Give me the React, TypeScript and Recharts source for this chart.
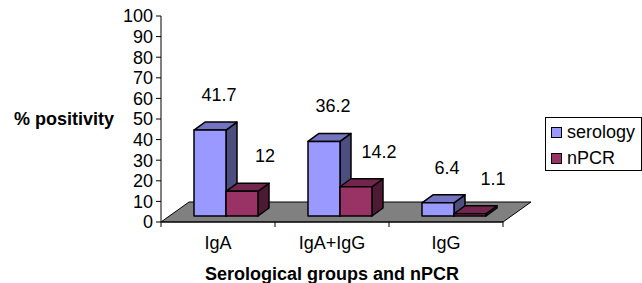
import { BarChart, Bar, XAxis, YAxis, Legend, LabelList, ReferenceArea } from "recharts";

const groups = ["IgA", "IgA+IgG", "IgG"];
const serology = [41.7, 36.2, 6.4];
const npcr = [12, 14.2, 1.1];
const yTicks = [0, 10, 20, 30, 40, 50, 60, 70, 80, 90, 100];
const seriesOrder = ["serology", "nPCR"];

const data = groups.map((group, i) => ({ group, serology: serology[i], nPCR: npcr[i] }));

const FONT = "'Liberation Sans', Arial, sans-serif";
const W = 642;
const H = 283;
const MARGIN = { top: 16, right: 139, bottom: 0, left: 0 };
const Y_AXIS_W = 161;
const X_AXIS_H = 61;
const PLOT_W = W - MARGIN.right - Y_AXIS_W;
const BAND = PLOT_W / groups.length;
const X_TICK_SIZE = 5;
const X_TICK_MARGIN = 9;

// fake 3D: bars sit partway back on the floor
const FLOOR_DX = 28;
const FLOOR_DY = 20;
const LIFT_X = 8;
const LIFT_Y = 6;
const DEPTH_DX = 11;
const DEPTH_DY = 8;

const SEROLOGY_COLORS = { front: "#9999FF", top: "#7373C0", side: "#4D4D80" };
const NPCR_COLORS = { front: "#993366", top: "#73264D", side: "#4D1A33" };

const box3d = (c: { front: string; top: string; side: string }) => (props: any) => {
  const { x, y, width, height } = props;
  if (x == null || width == null) return null;
  const fx = x + LIFT_X;
  const fy = y - LIFT_Y;
  const top = `${fx},${fy} ${fx + width},${fy} ${fx + width + DEPTH_DX},${fy - DEPTH_DY} ${fx + DEPTH_DX},${fy - DEPTH_DY}`;
  const side = `${fx + width},${fy} ${fx + width + DEPTH_DX},${fy - DEPTH_DY} ${fx + width + DEPTH_DX},${fy + height - DEPTH_DY} ${fx + width},${fy + height}`;
  return (
    <g stroke="#000" strokeWidth={1.5} strokeLinejoin="round">
      <polygon points={side} fill={c.side} />
      <polygon points={top} fill={c.top} />
      <rect x={fx} y={fy} width={width} height={height} fill={c.front} />
    </g>
  );
};

const Floor = (props: any) => {
  const { x, y, width, height } = props;
  const by = y + height;
  const pts = `${x},${by} ${x + width},${by} ${x + width + FLOOR_DX},${by - FLOOR_DY} ${x + FLOOR_DX},${by - FLOOR_DY}`;
  return <polygon points={pts} fill="#808080" stroke="#000" strokeWidth={1} />;
};

const valueLabel = (dx: number) => (props: any) => {
  const x = props.x ?? props.viewBox?.x;
  const y = props.y ?? props.viewBox?.y;
  const width = props.width ?? props.viewBox?.width;
  return (
    <text x={x + width / 2 + dx} y={y - 41} textAnchor="middle" dominantBaseline="central"
      fontSize={18} fontFamily={FONT} fill="#000">
      {props.value}
    </text>
  );
};

const CategoryTick = (props: any) => {
  const { x, y, payload, index } = props;
  const axisY = y - X_TICK_SIZE - X_TICK_MARGIN;
  return (
    <g>
      {index === 0 && (
        <line x1={x - BAND / 2} y1={axisY} x2={x - BAND / 2} y2={axisY + X_TICK_SIZE} stroke="#000" />
      )}
      <line x1={x + BAND / 2} y1={axisY} x2={x + BAND / 2} y2={axisY + X_TICK_SIZE} stroke="#000" />
      <text x={x} y={y} dy="0.71em" textAnchor="middle" fontSize={18} fontFamily={FONT} fill="#000">
        {payload.value}
      </text>
    </g>
  );
};

const LegendBox = (props: any) => {
  const items = [...(props.payload || [])].sort(
    (a: any, b: any) => seriesOrder.indexOf(a.dataKey) - seriesOrder.indexOf(b.dataKey)
  );
  return (
    <div style={{
      boxSizing: "border-box", width: 97, height: 54, border: "1px solid #000", background: "#fff",
      padding: "1px 0 0 5px", fontFamily: FONT, fontSize: 18, color: "#000", textAlign: "left",
    }}>
      {items.map((p: any) => (
        <div key={p.value} style={{ display: "flex", alignItems: "center", height: 26, whiteSpace: "nowrap" }}>
          <span style={{
            display: "inline-block", boxSizing: "border-box", width: 11, height: 11, flex: "none",
            border: "1px solid #000", background: p.color, marginRight: 5,
          }} />
          {p.value}
        </div>
      ))}
    </div>
  );
};

export default function App() {
  return (
    <div style={{ position: "absolute", left: 0, top: 0, width: W, height: H, background: "#fff" }}>
      <BarChart width={W} height={H} data={data} margin={MARGIN} barSize={32} barGap={0}
        style={{ fontFamily: FONT }}>
        <ReferenceArea y1={0} y2={1} shape={Floor} ifOverflow="visible" />
        <XAxis dataKey="group" height={X_AXIS_H} interval={0} tickLine={false}
          tickSize={X_TICK_SIZE} tickMargin={X_TICK_MARGIN}
          axisLine={{ stroke: "#000" }} tick={<CategoryTick />}
          label={{ value: "Serological groups and nPCR", position: "insideBottom", offset: 3,
            fontSize: 18, fontWeight: "bold", fill: "#000", fontFamily: FONT }} />
        <YAxis width={Y_AXIS_W} domain={[0, 100]} ticks={yTicks} interval={0}
          tickSize={5} tickMargin={3} axisLine={{ stroke: "#000" }} tickLine={{ stroke: "#000" }}
          tick={{ fill: "#000", fontSize: 18, fontFamily: FONT }}
          label={{ value: "% positivity", position: "insideLeft", offset: 14, angle: 0,
            fontSize: 18, fontWeight: "bold", fill: "#000", fontFamily: FONT }} />
        <Legend layout="vertical" verticalAlign="middle" align="center" content={<LegendBox />}
          wrapperStyle={{ left: 545, top: 117, width: 97, height: 54 }} />
        <Bar dataKey="serology" name="serology" fill={SEROLOGY_COLORS.front}
          shape={box3d(SEROLOGY_COLORS)} isAnimationActive={false}>
          <LabelList dataKey="serology" content={valueLabel(17)} />
        </Bar>
        <Bar dataKey="nPCR" name="nPCR" fill={NPCR_COLORS.front}
          shape={box3d(NPCR_COLORS)} isAnimationActive={false}>
          <LabelList dataKey="nPCR" content={valueLabel(31)} />
        </Bar>
      </BarChart>
    </div>
  );
}
